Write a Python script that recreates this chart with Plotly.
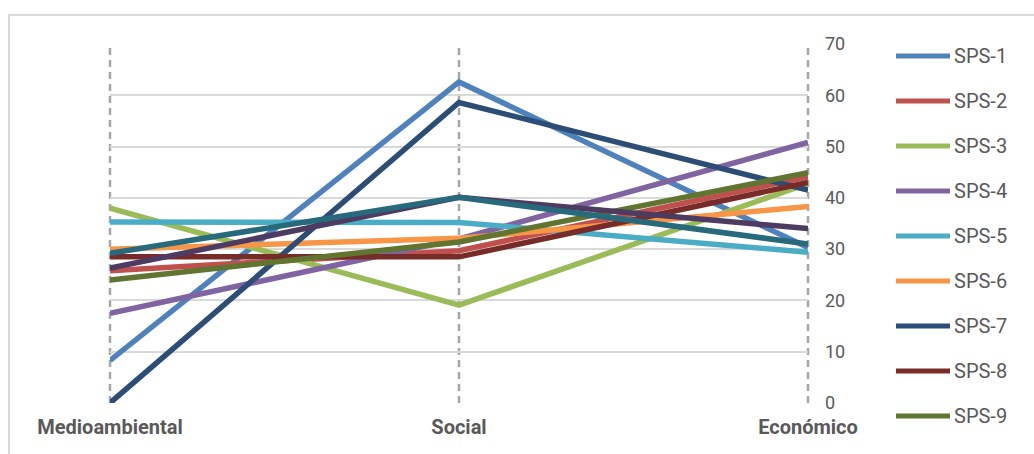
import plotly.graph_objects as go

# Dimension scores per scenario
categories = ["Medioambiental", "Social", "Económico"]

series_names = ["SPS-1", "SPS-2", "SPS-3", "SPS-4", "SPS-5", "SPS-6",
                "SPS-7", "SPS-8", "SPS-9", "SPS-10", "SPS-11"]

sps1 = [8.3, 62.6, 30.3]
sps2 = [25.8, 29.7, 44.1]
sps3 = [38.0, 19.1, 42.8]
sps4 = [17.5, 32.0, 50.8]
sps5 = [35.3, 35.2, 29.4]
sps6 = [30.0, 32.1, 38.3]
sps7 = [0.0, 58.6, 41.5]
sps8 = [28.5, 28.5, 43.0]
sps9 = [24.0, 31.4, 44.9]
sps10 = [26.3, 40.1, 34.0]
sps11 = [29.2, 40.1, 31.0]

series_values = [sps1, sps2, sps3, sps4, sps5, sps6,
                 sps7, sps8, sps9, sps10, sps11]

colors = ["#4F81BD", "#C0504D", "#9BBB59", "#8064A2", "#4BACC6", "#F79646",
          "#2C4D75", "#772C2A", "#5F7530", "#4D3B62", "#276A7C"]

y_ticks = [0, 10, 20, 30, 40, 50, 60, 70]

# the key only has room for the first nine entries
legend_count = 9

fig = go.Figure()
for name, vals, col in zip(series_names, series_values, colors):
    fig.add_trace(go.Scatter(
        x=categories, y=vals, name=name, mode="lines",
        line=dict(color=col, width=5.5),
        showlegend=False,
    ))

W, H = 1034, 454
L, R, T, B = 110, 226, 44, 51
pw, ph = W - L - R, H - T - B


def px(x):
    return (x - L) / pw


def py(y):
    return (H - B - y) / ph


# outer chart border
fig.add_shape(type="rect", xref="paper", yref="paper",
              x0=px(9), x1=px(1040), y0=py(15), y1=py(470),
              line=dict(color="#D9D9D9", width=2), fillcolor="rgba(0,0,0,0)",
              layer="below")

# dashed drop lines at every category (paper-referenced so the edge ones
# are not clipped by the plot area)
n_cat = len(categories)
for i in range(n_cat):
    xp = i / (n_cat - 1)
    fig.add_shape(type="line", xref="paper", yref="y",
                  x0=xp, x1=xp, y0=y_ticks[0], y1=y_ticks[-1],
                  line=dict(color="#A6A6A6", width=2.5, dash="7px,5px"),
                  layer="below")

# key on the right: long line swatch followed by the series name
for i in range(legend_count):
    yc = 56 + 45 * i
    fig.add_shape(type="line", xref="paper", yref="paper",
                  x0=px(896), x1=px(950), y0=py(yc), y1=py(yc),
                  line=dict(color=colors[i], width=5))
    fig.add_annotation(xref="paper", yref="paper", x=px(952), y=py(yc),
                       xanchor="left", yanchor="middle", showarrow=False,
                       text=series_names[i],
                       font=dict(size=20, color="#595959", family="Roboto"))

fig.update_layout(
    width=W, height=H,
    margin=dict(l=L, r=R, t=T, b=B),
    paper_bgcolor="white", plot_bgcolor="white",
    font=dict(family="Roboto", color="#595959"),
    showlegend=False,
    xaxis=dict(
        type="category",
        range=[0, 2],
        showgrid=False, showline=False, zeroline=False, ticks="",
        tickfont=dict(size=20, color="#595959", family="Roboto", weight="bold"),
        ticklabelstandoff=10,
    ),
    yaxis=dict(
        side="right",
        range=[0, 70], tickvals=y_ticks,
        showgrid=True, gridcolor="#D9D9D9", gridwidth=1.5,
        zeroline=False, showline=False, ticks="",
        tickfont=dict(size=18, color="#595959", family="Roboto"),
        ticklabelstandoff=16,
    ),
)

fig.write_html("out.html")
